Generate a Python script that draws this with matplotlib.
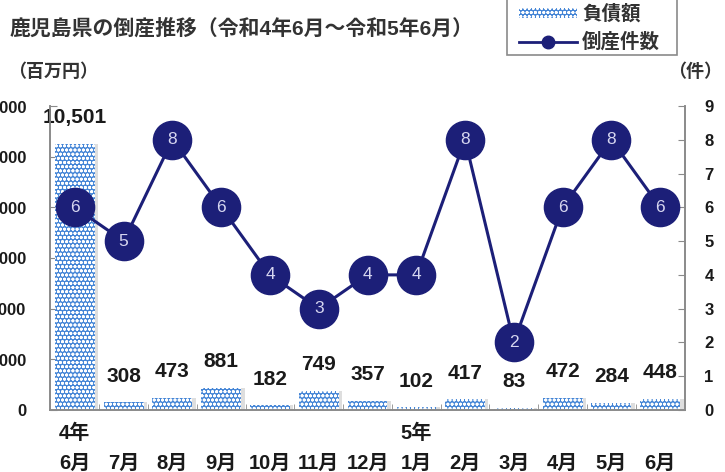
import matplotlib
matplotlib.use('Agg')
import matplotlib.pyplot as plt
import matplotlib.patches as mpatches
from matplotlib.lines import Line2D

# ---------------- dados ----------------
titulo = "鹿児島県の倒産推移（令和4年6月～令和5年6月）"
meses = ['6月', '7月', '8月', '9月', '10月', '11月', '12月', '1月', '2月', '3月', '4月', '5月', '6月']
anos = ['4年', '', '', '', '', '', '', '5年', '', '', '', '', '']
divida = [10501, 308, 473, 881, 182, 749, 357, 102, 417, 83, 472, 284, 448]
casos = [6, 5, 8, 6, 4, 3, 4, 4, 8, 2, 6, 8, 6]
ticks_esq = [0, 2000, 4000, 6000, 8000, 10000, 12000]
ticks_dir = [0, 1, 2, 3, 4, 5, 6, 7, 8, 9]

# ---------------- estilo ----------------
plt.rcParams['font.family'] = ['Liberation Sans', 'Noto Sans CJK JP', 'DejaVu Sans']
plt.rcParams['hatch.linewidth'] = 0.9
azul_barra = '#4485d6'
azul_linha = '#1c1f78'
cinza = '#8a8a8a'
texto = '#1a1a1a'

fig = plt.figure(figsize=(7.25, 4.72), dpi=100)
ax1 = fig.add_axes([50 / 725, 1 - 410 / 472, 635 / 725, 304 / 472])
ax2 = ax1.twinx()

x = list(range(len(meses)))

# sombra das barras
ax1.bar([i + 0.07 for i in x], divida, width=0.82, color='#c8c8c8', alpha=0.6, linewidth=0, zorder=1)
# barras com padrao
ax1.bar(x, divida, width=0.82, facecolor=azul_barra, edgecolor='white', hatch='oooo', linewidth=0, zorder=2)

for i, v in enumerate(divida):
    ax1.annotate("{:,}".format(v), (i, v), xytext=(0, 12), textcoords='offset points',
                 ha='center', va='bottom', fontsize=15, fontweight='bold', color=texto)

ax1.set_xlim(-0.51, 12.51)
ax1.set_ylim(0, 12000)
ax1.set_yticks(ticks_esq)
ax1.set_yticklabels(["{:,}".format(t) for t in ticks_esq], fontsize=12, fontweight='bold', color=texto)
ax1.tick_params(axis='y', direction='in', length=5, color=cinza, pad=17)

# rotulos do eixo x (ano em cima, mes embaixo)
ax1.set_xticks(x)
ax1.set_xticklabels([a + "\n" + m for a, m in zip(anos, meses)], fontsize=14.5, color=texto,
                    fontweight='bold', linespacing=1.72)
ax1.tick_params(axis='x', length=0, pad=10)
ax1.set_xticks([i + 0.5 for i in x[:-1]], minor=True)
ax1.tick_params(axis='x', which='minor', direction='in', length=4, color=cinza)

# linha de casos
ax2.plot(x, casos, color=azul_linha, linewidth=2.2, marker='o', markersize=27.5,
         markerfacecolor=azul_linha, markeredgecolor=azul_linha, zorder=5)
for i, c in enumerate(casos):
    ax2.text(i, c, str(c), ha='center', va='center', fontsize=12.5, color='#d6d6f0', zorder=6)
ax2.set_ylim(0, 9)
ax2.set_yticks(ticks_dir)
ax2.set_yticklabels([str(t) for t in ticks_dir], fontsize=12, fontweight='bold', color=texto)
ax2.tick_params(axis='y', direction='in', length=5, color=cinza, pad=14)

for ax in (ax1, ax2):
    ax.spines['top'].set_visible(False)
    for s in ('left', 'right', 'bottom'):
        ax.spines[s].set_color(cinza)
        ax.spines[s].set_linewidth(1.2)
ax1.set_zorder(1)
ax2.set_zorder(2)
ax2.patch.set_visible(False)

# textos
fig.text(10 / 725, 1 - 28 / 472, titulo, fontsize=15, fontweight='bold', color='#333333', va='center')
fig.text(8 / 725, 1 - 72 / 472, "（百万円）", fontsize=13, fontweight='bold', color='#333333', va='center')
fig.text(668 / 725, 1 - 72 / 472, "（件）", fontsize=13, fontweight='bold', color='#333333', va='center')

# legenda (moldura desenhada a parte, cortada no topo como no original)
moldura = mpatches.Rectangle((507 / 725, 1 - 55 / 472), 170 / 725, 60 / 472, transform=fig.transFigure,
                             facecolor='white', edgecolor=cinza, linewidth=1.2, zorder=0)
fig.patches.append(moldura)
legenda = [mpatches.Patch(facecolor=azul_barra, edgecolor='white', hatch='oooo', linewidth=0, label='負債額'),
           Line2D([0], [0], color=azul_linha, linewidth=2, marker='o', markersize=9, label='倒産件数')]
leg = fig.legend(handles=legenda, loc='lower left', bbox_to_anchor=(514 / 725, 1 - 57 / 472),
                 fontsize=14, frameon=False, handlelength=3.0,
                 handleheight=0.4, borderpad=0.25, labelspacing=0.45, handletextpad=0.25,
                 borderaxespad=0)
for t in leg.get_texts():
    t.set_fontweight('bold')
    t.set_color('#333333')

fig.savefig('out.png', dpi=100)
